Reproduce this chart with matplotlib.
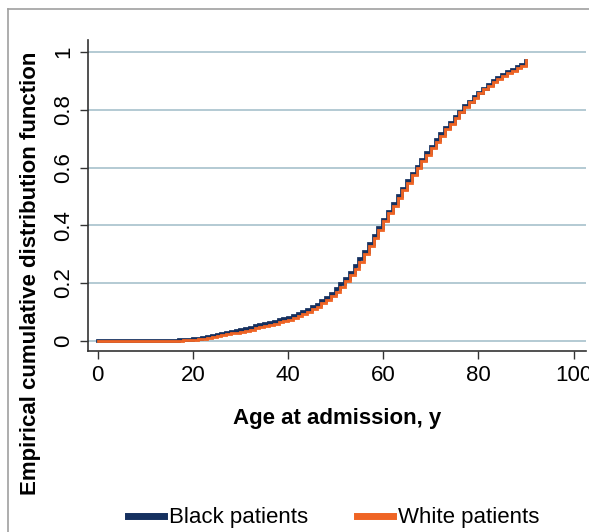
import numpy as np
import matplotlib
matplotlib.use('Agg')
import matplotlib.pyplot as plt
from matplotlib.lines import Line2D

plt.rcParams['font.family'] = ['Liberation Sans', 'DejaVu Sans']

ages = list(range(0, 91))

# ECDF value at each age
black_cdf = [0.0] * 17 + [
    0.001, 0.002, 0.003, 0.005, 0.007, 0.010, 0.013, 0.016, 0.020, 0.023,   # 17-26
    0.027, 0.030, 0.034, 0.037, 0.041, 0.045, 0.049, 0.053, 0.057, 0.061,   # 27-36
    0.066, 0.070, 0.075, 0.079, 0.085, 0.091, 0.098, 0.106, 0.115, 0.125,   # 37-46
    0.136, 0.149, 0.163, 0.178, 0.195, 0.214, 0.235, 0.258, 0.282, 0.306,   # 47-56
    0.334, 0.363, 0.391, 0.419, 0.447, 0.474, 0.500, 0.526, 0.552, 0.578,   # 57-66
    0.603, 0.627, 0.650, 0.672, 0.694, 0.715, 0.736, 0.756, 0.775, 0.794,   # 67-76
    0.812, 0.829, 0.845, 0.860, 0.874, 0.887, 0.899, 0.910, 0.920, 0.930,   # 77-86
    0.939, 0.948, 0.956, 0.968]                                             # 87-90

white_cdf = [0.0] * 18 + [
    0.001, 0.002, 0.003, 0.005, 0.007, 0.010, 0.013, 0.016, 0.019, 0.022,   # 18-27
    0.025, 0.028, 0.031, 0.034, 0.038, 0.042, 0.046, 0.050, 0.054, 0.058,   # 28-37
    0.063, 0.068, 0.073, 0.078, 0.084, 0.091, 0.099, 0.108, 0.118, 0.129,   # 38-47
    0.141, 0.155, 0.170, 0.187, 0.205, 0.226, 0.248, 0.272, 0.300, 0.328,   # 48-57
    0.357, 0.385, 0.413, 0.441, 0.468, 0.495, 0.521, 0.547, 0.573, 0.598,   # 58-67
    0.622, 0.645, 0.668, 0.690, 0.711, 0.732, 0.752, 0.772, 0.791, 0.809,   # 68-77
    0.826, 0.842, 0.857, 0.871, 0.884, 0.896, 0.907, 0.917, 0.927, 0.936,   # 78-87
    0.945, 0.953, 0.972]                                                    # 88-90

labels = ['Black patients', 'White patients']
x_ticks = [0, 20, 40, 60, 80, 100]
y_ticks = [0, 0.2, 0.4, 0.6, 0.8, 1]
y_ticklabels = ['0', '0.2', '0.4', '0.6', '0.8', '1']

navy = '#15305f'
orange = '#ef6424'
grid_col = '#a7c1cc'

W, H = 589, 532
fig = plt.figure(figsize=(W / 100, H / 100), dpi=100)
ax = fig.add_axes([88.3 / W, 1 - 350.7 / H, (586 - 88.3) / W, (350.7 - 40) / H])

ax.set_xlim(-1.97, 102.6)
ax.set_ylim(-0.035, (340.7 - 40) / 288.5)

for yv in y_ticks:
    ax.axhline(yv, color=grid_col, lw=1.2, zorder=1)

ax.step(ages, black_cdf, where='post', color=navy, lw=2.7, zorder=3,
        solid_joinstyle='miter')
ax.step(ages, white_cdf, where='post', color=orange, lw=2.0, zorder=4,
        solid_joinstyle='miter')

ax.set_xticks(x_ticks)
ax.set_yticks(y_ticks)
ax.set_yticklabels(y_ticklabels, rotation=90, va='center')
ax.tick_params(axis='both', length=6, width=1.0, color='#333333',
               labelsize=16, pad=4)

for side in ('top', 'right'):
    ax.spines[side].set_visible(False)
for side in ('left', 'bottom'):
    ax.spines[side].set_color('#333333')
    ax.spines[side].set_linewidth(1.2)

ax.set_xlabel('Age at admission, y', fontsize=16, fontweight='bold', labelpad=16)
fig.text(31 / W, 1 - 273 / H, 'Empirical cumulative distribution function',
         rotation=90, fontsize=16, fontweight='bold', ha='center', va='center')

handles = [Line2D([], [], color=navy, lw=5), Line2D([], [], color=orange, lw=5)]
fig.legend(handles, labels, loc='center', bbox_to_anchor=(334 / W, 14 / H),
           ncol=2, frameon=False, fontsize=16, handlelength=1.6,
           handletextpad=0.25, columnspacing=2.2)

# outer frame lines (top and left only)
fig.add_artist(Line2D([8 / W, 1], [1 - 9 / H, 1 - 9 / H], color='#a0a0a0', lw=1.2,
                      transform=fig.transFigure))
fig.add_artist(Line2D([8 / W, 8 / W], [0, 1 - 9 / H], color='#a0a0a0', lw=1.2,
                      transform=fig.transFigure))

fig.savefig('out.png', dpi=100, facecolor='white')
